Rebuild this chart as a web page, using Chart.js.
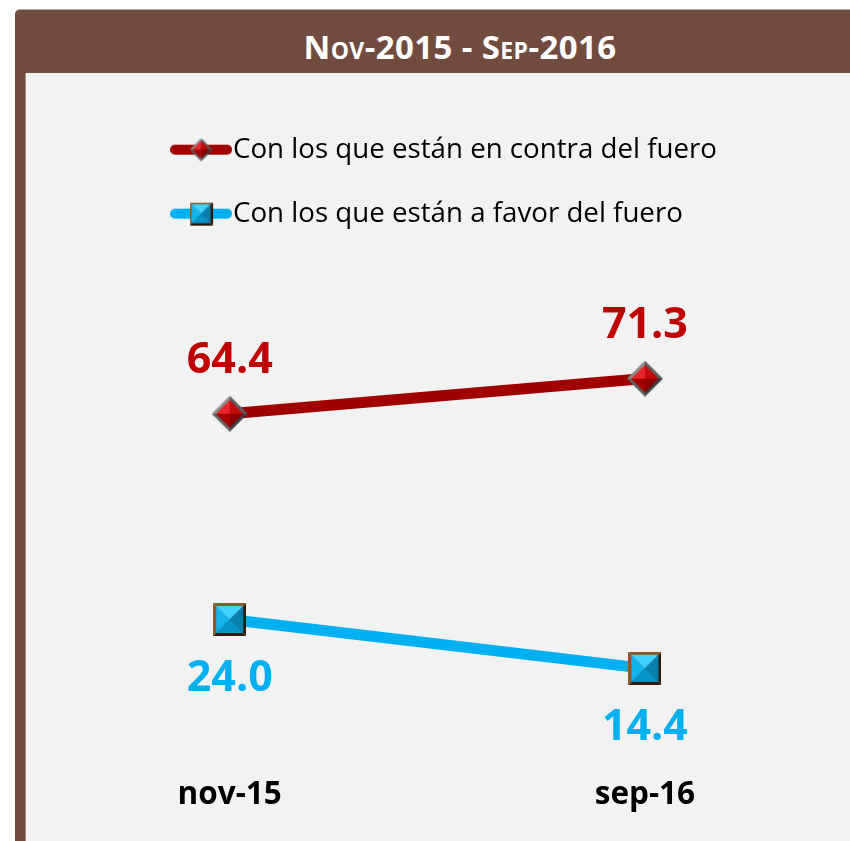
<!DOCTYPE html>
<html>
<head>
<meta charset="utf-8">
<script src="https://cdn.jsdelivr.net/npm/chart.js@4"></script>
<style>
  html, body { margin: 0; padding: 0; background: #fff; overflow: hidden; }
  #frame {
    position: absolute; left: 15px; top: 9px; width: 900px; height: 900px;
    background: #714b3e; border-radius: 5px 0 0 0;
    border-top: 1px solid #b7a9a3;
  }
  #inner {
    position: absolute; left: 10px; top: 63px; right: 0; bottom: 0;
    background: #f2f2f2; border-left: 1px solid #a48a80;
  }
  #title {
    position: absolute; left: 0; top: 0; width: 890px; height: 74px;
    text-align: center; color: #fff; font: bold 33px "Open Sans", sans-serif;
    line-height: 74px; font-variant: small-caps; letter-spacing: 0.4px;
  }
  #chart { position: absolute; left: 0; top: 0; }
</style>
</head>
<body>
<div id="frame"><div id="title">Nov-2015 - Sep-2016</div><div id="inner"></div></div>
<canvas id="chart" width="850" height="850"></canvas>
<script>
const categories = ["nov-15", "sep-16"];
const contraValues = [64.4, 71.3];
const favorValues = [24.0, 14.4];
const seriesNames = ["Con los que están en contra del fuero", "Con los que están a favor del fuero"];

const FONT = "'Open Sans', sans-serif";

// bevelled marker, like the Excel one
function makeMarker(shape, size, c) {
  const cv = document.createElement("canvas");
  cv.width = cv.height = size;
  const g = cv.getContext("2d");
  const m = size / 2;
  const poly = (pts, fill) => {
    g.beginPath();
    g.moveTo(pts[0][0], pts[0][1]);
    pts.slice(1).forEach(p => g.lineTo(p[0], p[1]));
    g.closePath();
    g.fillStyle = fill;
    g.fill();
  };
  if (shape === "diamond") {
    const o = [[m, 0], [size, m], [m, size], [0, m]];
    poly([o[3], o[0], [m, m]], c.border[0]);
    poly([o[0], o[1], [m, m]], c.border[1]);
    poly([o[1], o[2], [m, m]], c.border[2]);
    poly([o[2], o[3], [m, m]], c.border[1]);
    const d = size * 0.12;
    const i = [[m, d], [size - d, m], [m, size - d], [d, m]];
    const cc = [m, m];
    poly([i[3], i[0], cc], c.faces[0]);
    poly([i[0], i[1], cc], c.faces[1]);
    poly([i[1], i[2], cc], c.faces[2]);
    poly([i[2], i[3], cc], c.faces[3]);
  } else {
    poly([[0, 0], [size, 0], [m, m]], c.border[0]);
    poly([[0, 0], [0, size], [m, m]], c.border[0]);
    poly([[size, 0], [size, size], [m, m]], c.border[2]);
    poly([[0, size], [size, size], [m, m]], c.border[2]);
    const d = Math.max(2, size * 0.09);
    const a = d, b = size - d, cc = [m, m];
    poly([[a, a], [b, a], cc], c.faces[0]);
    poly([[a, a], [a, b], cc], c.faces[1]);
    poly([[b, a], [b, b], cc], c.faces[2]);
    poly([[a, b], [b, b], cc], c.faces[3]);
  }
  return cv;
}

function makeLegendIcon(color, marker) {
  const cv = document.createElement("canvas");
  cv.width = 62; cv.height = 26;
  const g = cv.getContext("2d");
  g.strokeStyle = color;
  g.lineWidth = 10;
  g.lineCap = "round";
  g.beginPath();
  g.moveTo(5, 13); g.lineTo(57, 13);
  g.stroke();
  g.drawImage(marker, 31 - marker.width / 2, 13 - marker.height / 2);
  return cv;
}

const redStyle = { border: ["#8c8c8c", "#5f5f5f", "#3f3f3f"], faces: ["#e8262a", "#c40a0a", "#8e0000", "#a80000"] };
const blueStyle = { border: ["#8a5a2c", "#6e4420", "#2e1c0c"], faces: ["#3fd2ff", "#12b4ec", "#0a7fae", "#0696c9"] };

const redMarker = makeMarker("diamond", 36, redStyle);
const blueMarker = makeMarker("square", 33, blueStyle);
const legendIcons = [
  makeLegendIcon("#a00000", makeMarker("diamond", 23, redStyle)),
  makeLegendIcon("#00b0f0", makeMarker("square", 23, blueStyle))
];

// value labels above / below each point
const valueLabels = {
  id: "valueLabels",
  afterDatasetsDraw(chart, args, opts) {
    const ctx = chart.ctx;
    ctx.save();
    ctx.font = "bold 43px " + FONT;
    ctx.textAlign = "center";
    ctx.textBaseline = "middle";
    chart.data.datasets.forEach((ds, i) => {
      const meta = chart.getDatasetMeta(i);
      ctx.fillStyle = opts.colors[i];
      meta.data.forEach((pt, j) => {
        ctx.fillText(ds.data[j].y.toFixed(1), pt.x, pt.y + opts.offsets[i]);
      });
    });
    ctx.restore();
  }
};

new Chart(document.getElementById("chart"), {
  type: "line",
  data: {
    datasets: [
      {
        label: seriesNames[0],
        data: contraValues.map((v, i) => ({ x: i, y: v })),
        borderColor: "#a00000",
        backgroundColor: "#a00000",
        borderWidth: 11,
        pointStyle: redMarker,
        pointRadius: 18,
        clip: false
      },
      {
        label: seriesNames[1],
        data: favorValues.map((v, i) => ({ x: i, y: v })),
        borderColor: "#00b0f0",
        backgroundColor: "#00b0f0",
        borderWidth: 11,
        pointStyle: blueMarker,
        pointRadius: 17,
        clip: false
      }
    ]
  },
  plugins: [valueLabels],
  options: {
    responsive: false,
    animation: false,
    layout: { autoPadding: false, padding: { top: 99.5, left: 146.7, right: 0, bottom: 1.7 } },
    plugins: {
      tooltip: { enabled: false },
      legend: {
        position: "top",
        align: "start",
        labels: {
          usePointStyle: true,
          pointStyleWidth: 36.15,
          padding: 36.3,
          color: "#000",
          font: { size: 27.7, family: FONT },
          generateLabels(chart) {
            const items = Chart.defaults.plugins.legend.labels.generateLabels(chart);
            items.forEach((it, i) => { it.pointStyle = legendIcons[i]; });
            return items;
          }
        }
      },
      valueLabels: { colors: ["#c00000", "#00b0f0"], offsets: [-53, 59] }
    },
    scales: {
      x: {
        type: "linear",
        min: -0.2,
        max: 1.494,
        grid: { display: false, drawTicks: false },
        border: { display: false },
        afterBuildTicks(scale) {
          scale.ticks = categories.map((_, i) => ({ value: i }));
        },
        ticks: {
          padding: 34.4,
          maxRotation: 0,
          color: "#000",
          font: { size: 31.5, weight: "bold", family: FONT },
          callback: v => categories[v]
        }
      },
      y: {
        display: false,
        min: 0,
        max: 99.0
      }
    }
  }
});
</script>
</body>
</html>
